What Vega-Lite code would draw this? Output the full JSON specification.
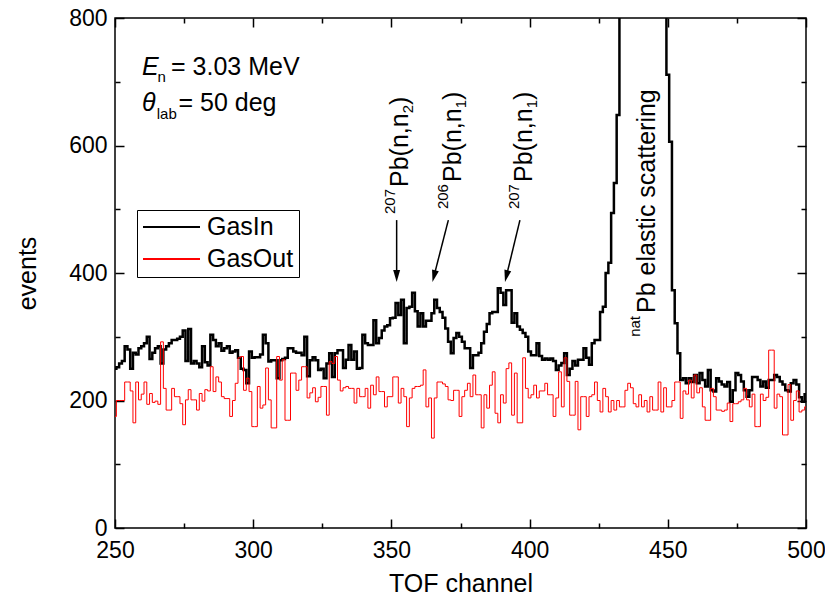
{
"$schema": "https://vega.github.io/schema/vega-lite/v6.json",
"width": 691,
"height": 510,
"autosize": {"type": "none"},
"padding": {"left": 115, "top": 18, "right": 19, "bottom": 74},
"config": {
  "font": "Liberation Sans",
  "view": {"stroke": "#000", "strokeWidth": 1.5},
  "axis": {"grid": false, "domain": false, "tickColor": "#000", "labelColor": "#000", "titleColor": "#000", "tickWidth": 1.5, "labelFontSize": 23, "titleFontSize": 25, "titleFontWeight": "normal", "labelFlush": false, "labelOverlap": false}
},
"datasets": {
"spectrum": [
{"channel":250,"GasIn":250,"GasOut":175},{"channel":251,"GasIn":252,"GasOut":200},{"channel":252,"GasIn":258,"GasOut":200},{"channel":253,"GasIn":262,"GasOut":200},{"channel":254,"GasIn":285,"GasOut":229},
{"channel":255,"GasIn":280,"GasOut":229},{"channel":256,"GasIn":250,"GasOut":215},{"channel":257,"GasIn":275,"GasOut":165},{"channel":258,"GasIn":272,"GasOut":229},{"channel":259,"GasIn":282,"GasOut":201},
{"channel":260,"GasIn":285,"GasOut":210},{"channel":261,"GasIn":290,"GasOut":229},{"channel":262,"GasIn":300,"GasOut":194},{"channel":263,"GasIn":265,"GasOut":211},{"channel":264,"GasIn":275,"GasOut":197},
{"channel":265,"GasIn":282,"GasOut":199},{"channel":266,"GasIn":285,"GasOut":194},{"channel":267,"GasIn":258,"GasOut":292},{"channel":268,"GasIn":280,"GasOut":219},{"channel":269,"GasIn":285,"GasOut":185},
{"channel":270,"GasIn":290,"GasOut":185},{"channel":271,"GasIn":295,"GasOut":219},{"channel":272,"GasIn":295,"GasOut":206},{"channel":273,"GasIn":297,"GasOut":206},{"channel":274,"GasIn":300,"GasOut":195},
{"channel":275,"GasIn":310,"GasOut":162},{"channel":276,"GasIn":262,"GasOut":201},{"channel":277,"GasIn":312,"GasOut":217},{"channel":278,"GasIn":258,"GasOut":201},{"channel":279,"GasIn":262,"GasOut":201},
{"channel":280,"GasIn":258,"GasOut":185},{"channel":281,"GasIn":252,"GasOut":211},{"channel":282,"GasIn":285,"GasOut":199},{"channel":283,"GasIn":260,"GasOut":217},{"channel":284,"GasIn":255,"GasOut":215},
{"channel":285,"GasIn":303,"GasOut":253},{"channel":286,"GasIn":295,"GasOut":214},{"channel":287,"GasIn":285,"GasOut":237},{"channel":288,"GasIn":290,"GasOut":229},{"channel":289,"GasIn":278,"GasOut":206},
{"channel":290,"GasIn":282,"GasOut":203},{"channel":291,"GasIn":285,"GasOut":203},{"channel":292,"GasIn":275,"GasOut":175},{"channel":293,"GasIn":277,"GasOut":200},{"channel":294,"GasIn":279,"GasOut":227},
{"channel":295,"GasIn":267,"GasOut":267},{"channel":296,"GasIn":250,"GasOut":269},{"channel":297,"GasIn":248,"GasOut":216},{"channel":298,"GasIn":227,"GasOut":235},{"channel":299,"GasIn":277,"GasOut":214},
{"channel":300,"GasIn":267,"GasOut":159},{"channel":301,"GasIn":268,"GasOut":159},{"channel":302,"GasIn":268,"GasOut":222},{"channel":303,"GasIn":272,"GasOut":188},{"channel":304,"GasIn":303,"GasOut":193},
{"channel":305,"GasIn":290,"GasOut":251},{"channel":306,"GasIn":261,"GasOut":201},{"channel":307,"GasIn":263,"GasOut":157},{"channel":308,"GasIn":263,"GasOut":157},{"channel":309,"GasIn":235,"GasOut":269},
{"channel":310,"GasIn":263,"GasOut":232},{"channel":311,"GasIn":265,"GasOut":264},{"channel":312,"GasIn":267,"GasOut":169},{"channel":313,"GasIn":282,"GasOut":169},{"channel":314,"GasIn":282,"GasOut":243},
{"channel":315,"GasIn":277,"GasOut":243},{"channel":316,"GasIn":275,"GasOut":216},{"channel":317,"GasIn":275,"GasOut":232},{"channel":318,"GasIn":271,"GasOut":253},{"channel":319,"GasIn":300,"GasOut":253},
{"channel":320,"GasIn":238,"GasOut":204},{"channel":321,"GasIn":263,"GasOut":212},{"channel":322,"GasIn":268,"GasOut":220},{"channel":323,"GasIn":263,"GasOut":198},{"channel":324,"GasIn":248,"GasOut":205},
{"channel":325,"GasIn":250,"GasOut":222},{"channel":326,"GasIn":235,"GasOut":222},{"channel":327,"GasIn":258,"GasOut":177},{"channel":328,"GasIn":274,"GasOut":261},{"channel":329,"GasIn":237,"GasOut":258},
{"channel":330,"GasIn":274,"GasOut":269},{"channel":331,"GasIn":279,"GasOut":232},{"channel":332,"GasIn":279,"GasOut":215},{"channel":333,"GasIn":251,"GasOut":220},{"channel":334,"GasIn":264,"GasOut":222},
{"channel":335,"GasIn":287,"GasOut":219},{"channel":336,"GasIn":264,"GasOut":219},{"channel":337,"GasIn":277,"GasOut":196},{"channel":338,"GasIn":250,"GasOut":219},{"channel":339,"GasIn":251,"GasOut":206},
{"channel":340,"GasIn":303,"GasOut":206},{"channel":341,"GasIn":290,"GasOut":219},{"channel":342,"GasIn":287,"GasOut":188},{"channel":343,"GasIn":287,"GasOut":224},{"channel":344,"GasIn":326,"GasOut":209},
{"channel":345,"GasIn":290,"GasOut":237},{"channel":346,"GasIn":298,"GasOut":214},{"channel":347,"GasIn":310,"GasOut":214},{"channel":348,"GasIn":316,"GasOut":190},{"channel":349,"GasIn":318,"GasOut":206},
{"channel":350,"GasIn":329,"GasOut":206},{"channel":351,"GasIn":330,"GasOut":237},{"channel":352,"GasIn":353,"GasOut":237},{"channel":353,"GasIn":334,"GasOut":196},{"channel":354,"GasIn":358,"GasOut":219},
{"channel":355,"GasIn":290,"GasOut":206},{"channel":356,"GasIn":345,"GasOut":159},{"channel":357,"GasIn":347,"GasOut":204},{"channel":358,"GasIn":369,"GasOut":219},{"channel":359,"GasIn":340,"GasOut":222},
{"channel":360,"GasIn":316,"GasOut":222},{"channel":361,"GasIn":337,"GasOut":224},{"channel":362,"GasIn":316,"GasOut":248},{"channel":363,"GasIn":325,"GasOut":190},{"channel":364,"GasIn":325,"GasOut":204},
{"channel":365,"GasIn":337,"GasOut":141},{"channel":366,"GasIn":358,"GasOut":204},{"channel":367,"GasIn":345,"GasOut":229},{"channel":368,"GasIn":339,"GasOut":229},{"channel":369,"GasIn":330,"GasOut":226},
{"channel":370,"GasIn":313,"GasOut":222},{"channel":371,"GasIn":292,"GasOut":201},{"channel":372,"GasIn":274,"GasOut":200},{"channel":373,"GasIn":298,"GasOut":216},{"channel":374,"GasIn":306,"GasOut":216},
{"channel":375,"GasIn":300,"GasOut":175},{"channel":376,"GasIn":292,"GasOut":206},{"channel":377,"GasIn":282,"GasOut":216},{"channel":378,"GasIn":282,"GasOut":227},{"channel":379,"GasIn":251,"GasOut":206},
{"channel":380,"GasIn":271,"GasOut":240},{"channel":381,"GasIn":271,"GasOut":209},{"channel":382,"GasIn":275,"GasOut":209},{"channel":383,"GasIn":290,"GasOut":157},{"channel":384,"GasIn":308,"GasOut":209},
{"channel":385,"GasIn":320,"GasOut":188},{"channel":386,"GasIn":337,"GasOut":224},{"channel":387,"GasIn":339,"GasOut":245},{"channel":388,"GasIn":339,"GasOut":180},{"channel":389,"GasIn":376,"GasOut":165},
{"channel":390,"GasIn":369,"GasOut":209},{"channel":391,"GasIn":350,"GasOut":196},{"channel":392,"GasIn":373,"GasOut":250},{"channel":393,"GasIn":373,"GasOut":259},{"channel":394,"GasIn":322,"GasOut":177},
{"channel":395,"GasIn":337,"GasOut":243},{"channel":396,"GasIn":316,"GasOut":165},{"channel":397,"GasIn":311,"GasOut":165},{"channel":398,"GasIn":306,"GasOut":267},{"channel":399,"GasIn":300,"GasOut":219},
{"channel":400,"GasIn":277,"GasOut":204},{"channel":401,"GasIn":271,"GasOut":209},{"channel":402,"GasIn":271,"GasOut":224},{"channel":403,"GasIn":290,"GasOut":204},{"channel":404,"GasIn":270,"GasOut":215},
{"channel":405,"GasIn":264,"GasOut":215},{"channel":406,"GasIn":266,"GasOut":227},{"channel":407,"GasIn":264,"GasOut":209},{"channel":408,"GasIn":266,"GasOut":209},{"channel":409,"GasIn":262,"GasOut":175},
{"channel":410,"GasIn":248,"GasOut":204},{"channel":411,"GasIn":255,"GasOut":245},{"channel":412,"GasIn":259,"GasOut":190},{"channel":413,"GasIn":274,"GasOut":267},{"channel":414,"GasIn":240,"GasOut":230},
{"channel":415,"GasIn":250,"GasOut":177},{"channel":416,"GasIn":262,"GasOut":177},{"channel":417,"GasIn":255,"GasOut":230},{"channel":418,"GasIn":264,"GasOut":154},{"channel":419,"GasIn":264,"GasOut":206},
{"channel":420,"GasIn":282,"GasOut":206},{"channel":421,"GasIn":267,"GasOut":175},{"channel":422,"GasIn":256,"GasOut":206},{"channel":423,"GasIn":290,"GasOut":209},{"channel":424,"GasIn":295,"GasOut":229},
{"channel":425,"GasIn":295,"GasOut":200},{"channel":426,"GasIn":339,"GasOut":182},{"channel":427,"GasIn":347,"GasOut":219},{"channel":428,"GasIn":400,"GasOut":206},{"channel":429,"GasIn":416,"GasOut":182},
{"channel":430,"GasIn":494,"GasOut":200},{"channel":431,"GasIn":541,"GasOut":185},{"channel":432,"GasIn":648,"GasOut":200},{"channel":433,"GasIn":1000,"GasOut":190},{"channel":434,"GasIn":1400,"GasOut":190},
{"channel":435,"GasIn":1800,"GasOut":216},{"channel":436,"GasIn":2200,"GasOut":227},{"channel":437,"GasIn":2600,"GasOut":220},{"channel":438,"GasIn":2900,"GasOut":195},{"channel":439,"GasIn":3100,"GasOut":190},
{"channel":440,"GasIn":3200,"GasOut":209},{"channel":441,"GasIn":3100,"GasOut":190},{"channel":442,"GasIn":2900,"GasOut":200},{"channel":443,"GasIn":2500,"GasOut":182},{"channel":444,"GasIn":2100,"GasOut":206},
{"channel":445,"GasIn":1700,"GasOut":185},{"channel":446,"GasIn":1350,"GasOut":185},{"channel":447,"GasIn":1100,"GasOut":229},{"channel":448,"GasIn":1000,"GasOut":182},{"channel":449,"GasIn":900,"GasOut":220},
{"channel":450,"GasIn":711,"GasOut":190},{"channel":451,"GasIn":606,"GasOut":190},{"channel":452,"GasIn":373,"GasOut":200},{"channel":453,"GasIn":321,"GasOut":229},{"channel":454,"GasIn":274,"GasOut":229},
{"channel":455,"GasIn":232,"GasOut":172},{"channel":456,"GasIn":235,"GasOut":215},{"channel":457,"GasIn":227,"GasOut":210},{"channel":458,"GasIn":235,"GasOut":232},{"channel":459,"GasIn":229,"GasOut":204},
{"channel":460,"GasIn":240,"GasOut":240},{"channel":461,"GasIn":227,"GasOut":212},{"channel":462,"GasIn":243,"GasOut":220},{"channel":463,"GasIn":232,"GasOut":190},{"channel":464,"GasIn":222,"GasOut":169},
{"channel":465,"GasIn":248,"GasOut":169},{"channel":466,"GasIn":216,"GasOut":219},{"channel":467,"GasIn":214,"GasOut":206},{"channel":468,"GasIn":235,"GasOut":185},{"channel":469,"GasIn":230,"GasOut":185},
{"channel":470,"GasIn":225,"GasOut":183},{"channel":471,"GasIn":222,"GasOut":185},{"channel":472,"GasIn":229,"GasOut":196},{"channel":473,"GasIn":198,"GasOut":167},{"channel":474,"GasIn":216,"GasOut":195},
{"channel":475,"GasIn":243,"GasOut":195},{"channel":476,"GasIn":240,"GasOut":198},{"channel":477,"GasIn":230,"GasOut":201},{"channel":478,"GasIn":216,"GasOut":219},{"channel":479,"GasIn":206,"GasOut":201},
{"channel":480,"GasIn":216,"GasOut":190},{"channel":481,"GasIn":237,"GasOut":210},{"channel":482,"GasIn":237,"GasOut":159},{"channel":483,"GasIn":232,"GasOut":159},{"channel":484,"GasIn":222,"GasOut":210},
{"channel":485,"GasIn":230,"GasOut":200},{"channel":486,"GasIn":220,"GasOut":205},{"channel":487,"GasIn":232,"GasOut":279},{"channel":488,"GasIn":232,"GasOut":279},{"channel":489,"GasIn":240,"GasOut":188},
{"channel":490,"GasIn":237,"GasOut":210},{"channel":491,"GasIn":230,"GasOut":206},{"channel":492,"GasIn":225,"GasOut":146},{"channel":493,"GasIn":216,"GasOut":146},{"channel":494,"GasIn":214,"GasOut":225},
{"channel":495,"GasIn":227,"GasOut":169},{"channel":496,"GasIn":232,"GasOut":200},{"channel":497,"GasIn":225,"GasOut":215},{"channel":498,"GasIn":205,"GasOut":182},{"channel":499,"GasIn":198,"GasOut":185},
{"channel":500,"GasIn":210,"GasOut":190}
]
},
"layer": [
{
  "data": {"name": "spectrum"},
  "transform": [{"fold": ["GasIn", "GasOut"], "as": ["series", "events"]}, {"filter": "datum.series === 'GasIn'"}],
  "mark": {"type": "line", "interpolate": "step", "clip": true, "strokeWidth": 2.5},
  "encoding": {
    "x": {"field": "channel", "type": "quantitative", "scale": {"domain": [250, 500], "nice": false, "zero": false},
      "axis": {"orient": "bottom", "values": [250,300,350,400,450,500], "ticks": false, "labelPadding": 11, "title": "TOF channel", "titlePadding": 9}},
    "y": {"field": "events", "type": "quantitative", "scale": {"domain": [0, 800], "nice": false},
      "axis": {"orient": "left", "values": [0,200,400,600,800], "ticks": false, "labelPadding": 8, "title": "events", "titlePadding": 28}},
    "color": {"field": "series", "type": "nominal", "scale": {"domain": ["GasIn", "GasOut"], "range": ["#000000", "#ff0000"]},
      "legend": {"orient": "none", "legendX": 22, "legendY": 192, "title": null, "symbolType": "stroke", "symbolSize": 3249, "symbolStrokeWidth": 2, "clipHeight": 24, "rowPadding": 7, "padding": 5, "labelOffset": 6, "labelFontSize": 25, "labelColor": "#000", "strokeColor": "#000", "fillColor": "#fff"}}
  }
},
{
  "data": {"name": "spectrum"},
  "transform": [{"fold": ["GasIn", "GasOut"], "as": ["series", "events"]}, {"filter": "datum.series === 'GasOut'"}],
  "mark": {"type": "line", "interpolate": "step", "clip": true, "strokeWidth": 1},
  "encoding": {
    "x": {"field": "channel", "type": "quantitative",
      "axis": {"orient": "top", "values": [250,300,350,400,450,500], "labels": false, "tickSize": 9, "offset": -9, "title": null}},
    "y": {"field": "events", "type": "quantitative",
      "axis": {"orient": "right", "values": [0,200,400,600,800], "labels": false, "tickSize": 9, "offset": -9, "title": null}},
    "color": {"field": "series", "type": "nominal"}
  }
},
{"data": {"values": [{}]}, "mark": {"type": "text", "text": "E", "fontSize": 25, "fontStyle": "italic", "align": "left", "baseline": "alphabetic", "color": "#000"},
 "encoding": {"x": {"datum": 259.77, "type": "quantitative", "axis": {"orient": "bottom", "values": [250,300,350,400,450,500], "labels": false, "tickSize": 9, "offset": -9, "title": null}},
              "y": {"datum": 710.6, "type": "quantitative", "axis": {"orient": "left", "values": [0,200,400,600,800], "labels": false, "tickSize": 9, "offset": -9, "title": null}}}},
{"data": {"values": [{}]}, "mark": {"type": "text", "text": "n", "fontSize": 15, "align": "left", "baseline": "alphabetic", "dx": 15.5, "dy": 7, "color": "#000"},
 "encoding": {"x": {"datum": 259.77, "type": "quantitative", "axis": {"orient": "bottom", "values": [275,325,375,425,475], "labels": false, "tickSize": 5, "offset": -5, "title": null}},
              "y": {"datum": 710.6, "type": "quantitative", "axis": {"orient": "left", "values": [100,300,500,700], "labels": false, "tickSize": 5, "offset": -5, "title": null}}}},
{"data": {"values": [{}]}, "mark": {"type": "text", "text": "= 3.03 MeV", "fontSize": 25, "align": "left", "baseline": "alphabetic", "dx": 29, "color": "#000"},
 "encoding": {"x": {"datum": 259.77, "type": "quantitative", "axis": {"orient": "top", "values": [275,325,375,425,475], "labels": false, "tickSize": 5, "offset": -5, "title": null}},
              "y": {"datum": 710.6, "type": "quantitative", "axis": {"orient": "right", "values": [100,300,500,700], "labels": false, "tickSize": 5, "offset": -5, "title": null}}}},
{"data": {"values": [{}]}, "mark": {"type": "text", "text": "θ", "fontSize": 25, "fontStyle": "italic", "align": "left", "baseline": "alphabetic", "color": "#000"},
 "encoding": {"x": {"datum": 259.77, "type": "quantitative", "axis": null}, "y": {"datum": 654.1, "type": "quantitative", "axis": null}}},
{"data": {"values": [{}]}, "mark": {"type": "text", "text": "lab", "fontSize": 15, "align": "left", "baseline": "alphabetic", "dx": 14.7, "dy": 8, "color": "#000"},
 "encoding": {"x": {"datum": 259.77, "type": "quantitative", "axis": null}, "y": {"datum": 654.1, "type": "quantitative", "axis": null}}},
{"data": {"values": [{}]}, "mark": {"type": "text", "text": "= 50 deg", "fontSize": 25, "align": "left", "baseline": "alphabetic", "dx": 36.5, "color": "#000"},
 "encoding": {"x": {"datum": 259.77, "type": "quantitative", "axis": null}, "y": {"datum": 654.1, "type": "quantitative", "axis": null}}},

{"data": {"values": [{}]}, "mark": {"type": "text", "text": "Pb(n,n", "fontSize": 25, "angle": 270, "align": "left", "baseline": "alphabetic", "color": "#000"},
 "encoding": {"x": {"datum": 356.0, "type": "quantitative", "axis": null}, "y": {"datum": 534.9, "type": "quantitative", "axis": null}}},
{"data": {"values": [{}]}, "mark": {"type": "text", "text": "207", "fontSize": 15, "angle": 270, "align": "right", "baseline": "alphabetic", "dx": -2, "dy": -13, "color": "#000"},
 "encoding": {"x": {"datum": 356.0, "type": "quantitative", "axis": null}, "y": {"datum": 534.9, "type": "quantitative", "axis": null}}},
{"data": {"values": [{}]}, "mark": {"type": "text", "text": "2", "fontSize": 15, "angle": 270, "align": "left", "baseline": "alphabetic", "dx": 73.7, "dy": 5, "color": "#000"},
 "encoding": {"x": {"datum": 356.0, "type": "quantitative", "axis": null}, "y": {"datum": 534.9, "type": "quantitative", "axis": null}}},
{"data": {"values": [{}]}, "mark": {"type": "text", "text": ")", "fontSize": 25, "angle": 270, "align": "left", "baseline": "alphabetic", "dx": 82, "color": "#000"},
 "encoding": {"x": {"datum": 356.0, "type": "quantitative", "axis": null}, "y": {"datum": 534.9, "type": "quantitative", "axis": null}}},

{"data": {"values": [{}]}, "mark": {"type": "text", "text": "Pb(n,n", "fontSize": 25, "angle": 270, "align": "left", "baseline": "alphabetic", "color": "#000"},
 "encoding": {"x": {"datum": 375.2, "type": "quantitative", "axis": null}, "y": {"datum": 542.7, "type": "quantitative", "axis": null}}},
{"data": {"values": [{}]}, "mark": {"type": "text", "text": "206", "fontSize": 15, "angle": 270, "align": "right", "baseline": "alphabetic", "dx": -2, "dy": -13, "color": "#000"},
 "encoding": {"x": {"datum": 375.2, "type": "quantitative", "axis": null}, "y": {"datum": 542.7, "type": "quantitative", "axis": null}}},
{"data": {"values": [{}]}, "mark": {"type": "text", "text": "1", "fontSize": 15, "angle": 270, "align": "left", "baseline": "alphabetic", "dx": 73.7, "dy": 5, "color": "#000"},
 "encoding": {"x": {"datum": 375.2, "type": "quantitative", "axis": null}, "y": {"datum": 542.7, "type": "quantitative", "axis": null}}},
{"data": {"values": [{}]}, "mark": {"type": "text", "text": ")", "fontSize": 25, "angle": 270, "align": "left", "baseline": "alphabetic", "dx": 82, "color": "#000"},
 "encoding": {"x": {"datum": 375.2, "type": "quantitative", "axis": null}, "y": {"datum": 542.7, "type": "quantitative", "axis": null}}},

{"data": {"values": [{}]}, "mark": {"type": "text", "text": "Pb(n,n", "fontSize": 25, "angle": 270, "align": "left", "baseline": "alphabetic", "color": "#000"},
 "encoding": {"x": {"datum": 400.9, "type": "quantitative", "axis": null}, "y": {"datum": 542.7, "type": "quantitative", "axis": null}}},
{"data": {"values": [{}]}, "mark": {"type": "text", "text": "207", "fontSize": 15, "angle": 270, "align": "right", "baseline": "alphabetic", "dx": -2, "dy": -13, "color": "#000"},
 "encoding": {"x": {"datum": 400.9, "type": "quantitative", "axis": null}, "y": {"datum": 542.7, "type": "quantitative", "axis": null}}},
{"data": {"values": [{}]}, "mark": {"type": "text", "text": "1", "fontSize": 15, "angle": 270, "align": "left", "baseline": "alphabetic", "dx": 73.7, "dy": 5, "color": "#000"},
 "encoding": {"x": {"datum": 400.9, "type": "quantitative", "axis": null}, "y": {"datum": 542.7, "type": "quantitative", "axis": null}}},
{"data": {"values": [{}]}, "mark": {"type": "text", "text": ")", "fontSize": 25, "angle": 270, "align": "left", "baseline": "alphabetic", "dx": 82, "color": "#000"},
 "encoding": {"x": {"datum": 400.9, "type": "quantitative", "axis": null}, "y": {"datum": 542.7, "type": "quantitative", "axis": null}}},

{"data": {"values": [{}]}, "mark": {"type": "text", "text": "Pb elastic scattering", "fontSize": 25, "angle": 270, "align": "left", "baseline": "alphabetic", "color": "#000"},
 "encoding": {"x": {"datum": 445.4, "type": "quantitative", "axis": null}, "y": {"datum": 337.3, "type": "quantitative", "axis": null}}},
{"data": {"values": [{}]}, "mark": {"type": "text", "text": "nat", "fontSize": 15, "angle": 270, "align": "right", "baseline": "alphabetic", "dx": -3, "dy": -15, "color": "#000"},
 "encoding": {"x": {"datum": 445.4, "type": "quantitative", "axis": null}, "y": {"datum": 337.3, "type": "quantitative", "axis": null}}},

{"data": {"values": [{}]}, "mark": {"type": "rule", "color": "#000", "strokeWidth": 1.5},
 "encoding": {"x": {"datum": 351.9, "type": "quantitative", "axis": null}, "y": {"datum": 483, "type": "quantitative", "axis": null}, "x2": {"datum": 351.9}, "y2": {"datum": 395.3}}},
{"data": {"values": [{}]}, "mark": {"type": "point", "shape": "M-0.58,-1L0.58,-1L0,1Z", "size": 144, "filled": true, "color": "#000", "opacity": 1, "angle": 0},
 "encoding": {"x": {"datum": 351.9, "type": "quantitative", "axis": null}, "y": {"datum": 395.3, "type": "quantitative", "axis": null}}},
{"data": {"values": [{}]}, "mark": {"type": "rule", "color": "#000", "strokeWidth": 1.5},
 "encoding": {"x": {"datum": 370.6, "type": "quantitative", "axis": null}, "y": {"datum": 483, "type": "quantitative", "axis": null}, "x2": {"datum": 365.4}, "y2": {"datum": 395.0}}},
{"data": {"values": [{}]}, "mark": {"type": "point", "shape": "M-0.58,-1L0.58,-1L0,1Z", "size": 144, "filled": true, "color": "#000", "opacity": 1, "angle": 14.3},
 "encoding": {"x": {"datum": 365.4, "type": "quantitative", "axis": null}, "y": {"datum": 395.0, "type": "quantitative", "axis": null}}},
{"data": {"values": [{}]}, "mark": {"type": "rule", "color": "#000", "strokeWidth": 1.5},
 "encoding": {"x": {"datum": 396.5, "type": "quantitative", "axis": null}, "y": {"datum": 483, "type": "quantitative", "axis": null}, "x2": {"datum": 391.6}, "y2": {"datum": 395.0}}},
{"data": {"values": [{}]}, "mark": {"type": "point", "shape": "M-0.58,-1L0.58,-1L0,1Z", "size": 144, "filled": true, "color": "#000", "opacity": 1, "angle": 13.6},
 "encoding": {"x": {"datum": 391.6, "type": "quantitative", "axis": null}, "y": {"datum": 395.0, "type": "quantitative", "axis": null}}}
],
"resolve": {"axis": {"x": "independent", "y": "independent"}}
}
